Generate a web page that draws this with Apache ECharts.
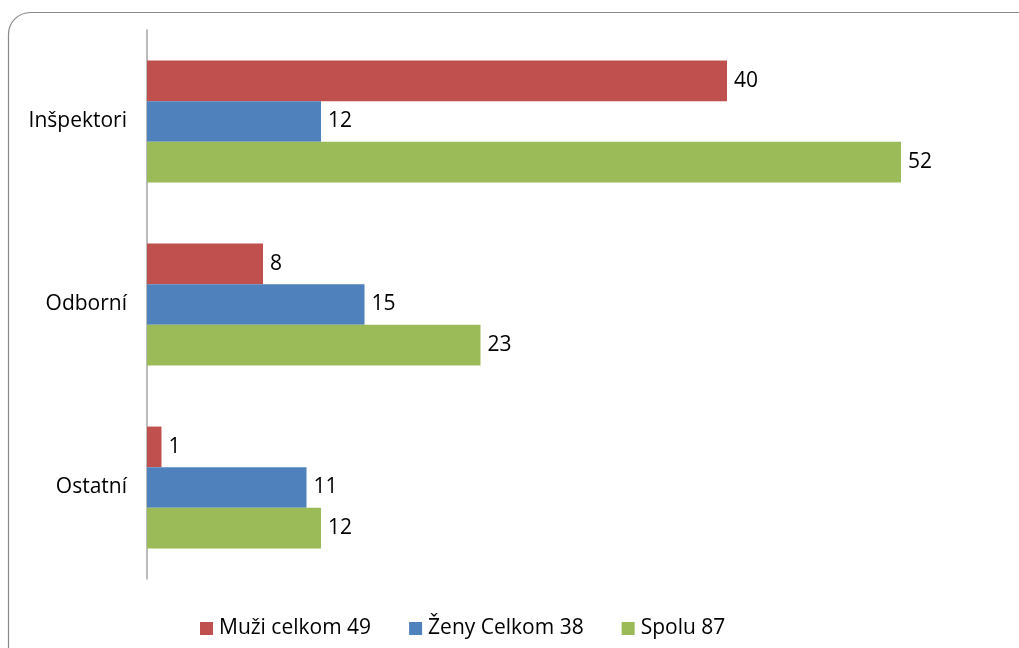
<!DOCTYPE html>
<html><head><meta charset="utf-8">
<script src="https://cdn.jsdelivr.net/npm/echarts@6/dist/echarts.min.js"></script>
<style>html,body{margin:0;padding:0;background:#fff}#c{width:1019px;height:648px}</style>
</head><body><div id="c"></div>
<script>
const categories = ['Inšpektori', 'Odborní', 'Ostatní'];
const seriesNames = ['Muži celkom 49', 'Ženy Celkom 38', 'Spolu 87'];
const muzi = [40, 8, 1];
const zeny = [12, 15, 11];
const spolu = [52, 23, 12];
const colors = ['#C0504D', '#4F81BD', '#9BBB59'];
const font = '"Open Sans", sans-serif';

const chart = echarts.init(document.getElementById('c'));
const mk = (name, data, color) => ({
  name, type: 'bar', data, barGap: '0%', barCategoryGap: '33.4%',
  itemStyle: { color },
  label: { show: true, position: 'right', distance: 7, color: '#000', fontSize: 21, fontFamily: font }
});
chart.setOption({
  animation: false,
  graphic: [{
    type: 'rect', shape: { x: 8.5, y: 12.5, width: 1040, height: 700, r: 22 },
    style: { fill: 'none', stroke: '#8a8a8a', lineWidth: 1.2 }, z: -1
  }],
  grid: { left: 147, top: 30, width: 870, height: 549 },
  xAxis: { type: 'value', min: 0, max: 60, show: false },
  yAxis: {
    type: 'category', data: categories, inverse: true,
    axisLine: { show: true, lineStyle: { color: '#a6a6a6', width: 1.5 } },
    axisTick: { show: false },
    axisLabel: { margin: 20, color: '#000', fontSize: 21, fontFamily: font }
  },
  legend: {
    top: 613, left: 195, itemWidth: 13, itemHeight: 13, itemGap: 38,
    icon: 'rect', textStyle: { color: '#000', fontSize: 21, fontFamily: font, padding: [0, 0, 0, 1] }
  },
  series: [mk(seriesNames[0], muzi, colors[0]), mk(seriesNames[1], zeny, colors[1]), mk(seriesNames[2], spolu, colors[2])]
});
</script></body></html>
